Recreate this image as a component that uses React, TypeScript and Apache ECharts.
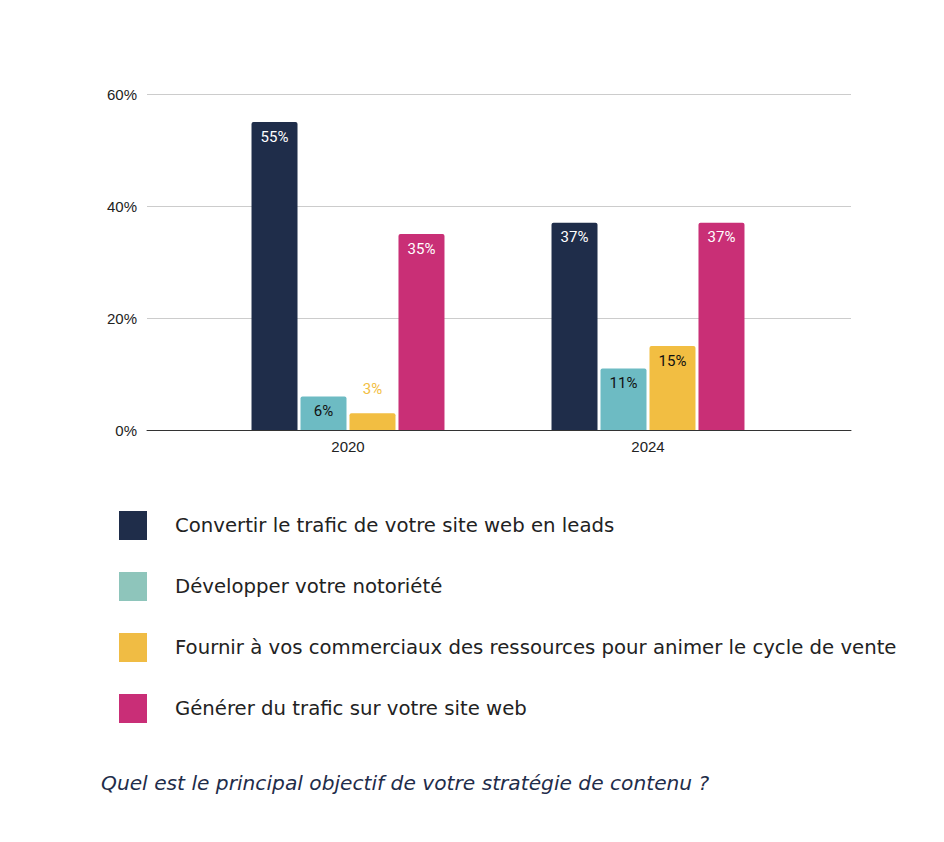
import React, { useEffect, useRef } from "react";
import * as echarts from "echarts";

const years = ["2020", "2024"];
const seriesNames = [
  "Convertir le trafic de votre site web en leads",
  "Développer votre notoriété",
  "Fournir à vos commerciaux des ressources pour animer le cycle de vente",
  "Générer du trafic sur votre site web",
];
const seriesValues = [
  [55, 37],
  [6, 11],
  [3, 15],
  [35, 37],
];
const barColors = ["#1f2d4a", "#6dbbc3", "#f2be42", "#c92f76"];
const legendColors = ["#1f2d4a", "#8ec5bb", "#f0bc44", "#c92e77"];
const labelColors = ["#ffffff", "#111111", "#111111", "#ffffff"];
const yTicks = [0, 20, 40, 60];
const title = "Quel est le principal objectif de votre stratégie de contenu ?";

export default function App() {
  const ref = useRef<HTMLDivElement>(null);
  useEffect(() => {
    document.body.style.margin = "0";
    const chart = echarts.init(ref.current!, null, { renderer: "svg" });
    const axisFont = "Liberation Sans";
    const labelFont = "Roboto";
    chart.setOption({
      animation: false,
      backgroundColor: "#ffffff",
      grid: [
        { left: 147, right: 93, top: 94, bottom: 412 },
        { left: 198, right: 146, top: 94, bottom: 412 },
      ],
      xAxis: [
        {
          gridIndex: 0,
          type: "category",
          data: [""],
          axisLine: { lineStyle: { color: "#333333", width: 1 } },
          axisTick: { show: false },
          axisLabel: { show: false },
        },
        {
          gridIndex: 1,
          type: "category",
          data: years,
          axisLine: { show: false },
          axisTick: { show: false },
          axisLabel: { fontSize: 15, color: "#222222", fontFamily: axisFont, margin: 9 },
        },
      ],
      yAxis: [
        {
          gridIndex: 0,
          type: "value",
          min: yTicks[0],
          max: yTicks[yTicks.length - 1],
          interval: 20,
          axisLine: { show: false },
          axisTick: { show: false },
          axisLabel: { formatter: "{value}%", fontSize: 15, color: "#222222", fontFamily: axisFont, margin: 10 },
          splitLine: { lineStyle: { color: "#cccccc", width: 1 } },
        },
        {
          gridIndex: 1,
          type: "value",
          min: yTicks[0],
          max: yTicks[yTicks.length - 1],
          interval: 20,
          show: false,
          splitLine: { show: false },
        },
      ],
      legend: {
        orient: "vertical",
        left: 114,
        top: 506,
        itemWidth: 28,
        itemHeight: 29,
        itemGap: 32,
        icon: "rect",
        textStyle: { fontSize: 19.7, color: "#222222", fontFamily: "DejaVu Sans", padding: [0, 0, 0, 23] },
        data: seriesNames.map((n, i) => ({ name: n, itemStyle: { color: legendColors[i] } })),
      },
      title: {
        text: title,
        left: 101,
        top: 773,
        padding: 0,
        textStyle: { fontSize: 20.2, fontStyle: "italic", fontWeight: "normal", color: "#1f2d4a", fontFamily: "DejaVu Sans" },
      },
      series: seriesNames.map((n, i) => ({
        name: n,
        type: "bar",
        xAxisIndex: 1,
        yAxisIndex: 1,
        barWidth: 46,
        barGap: "6.5%",
        itemStyle: { color: barColors[i], borderRadius: [2, 2, 0, 0] },
        label: {
          show: true,
          position: "insideTop",
          distance: 7,
          formatter: "{c}%",
          fontSize: 15,
          fontFamily: labelFont,
          color: labelColors[i],
        },
        data: seriesValues[i].map((v) =>
          v < 5
            ? { value: v, label: { position: "top", distance: 17, color: barColors[i] } }
            : v
        ),
      })),
    });
    return () => chart.dispose();
  }, []);
  return <div ref={ref} style={{ width: 944, height: 842 }} />;
}
